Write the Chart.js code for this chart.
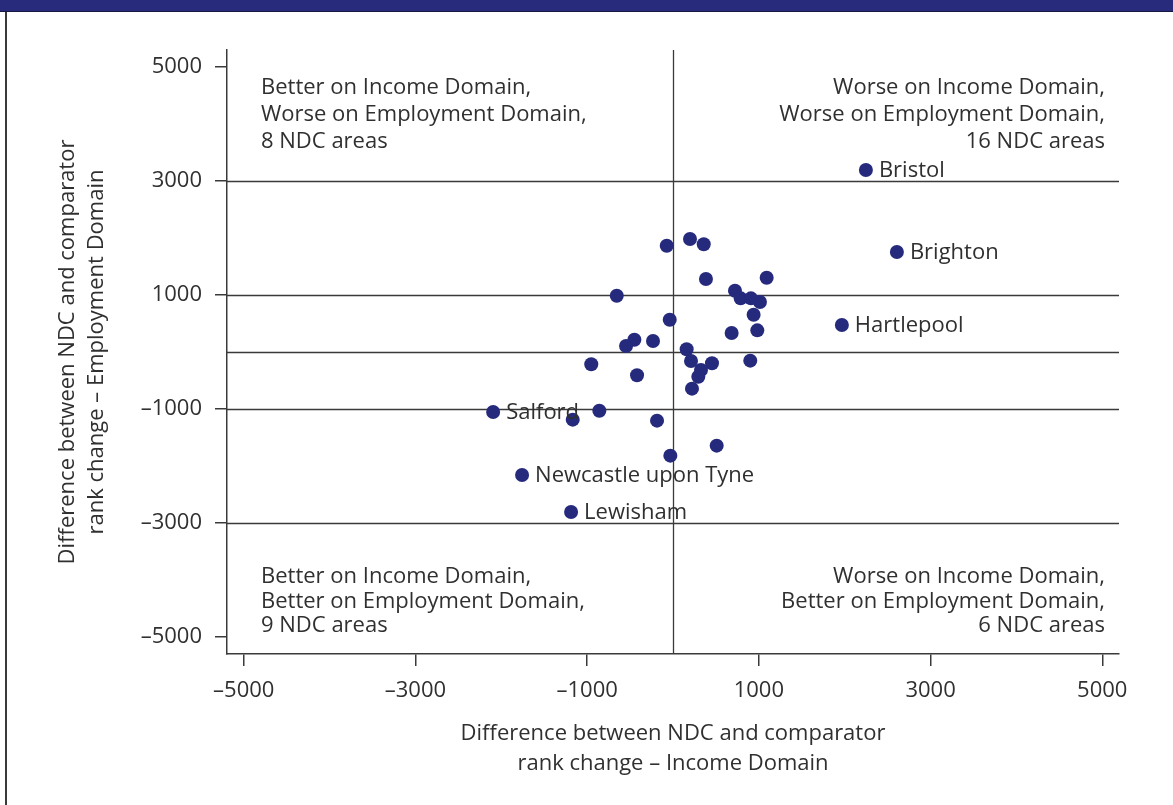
<!DOCTYPE html>
<html>
<head>
<meta charset="utf-8">
<script src="https://cdn.jsdelivr.net/npm/chart.js@4/dist/chart.umd.min.js"></script>
<style>
html,body{margin:0;padding:0;background:#fff;overflow:hidden;}
#banner{position:absolute;left:0;top:0;width:1173px;height:11px;background:#282b7b;border-bottom:1px solid #15173f;}
#lborder{position:absolute;left:5px;top:12px;width:2px;height:793px;background:#3a3a3a;}
canvas{position:absolute;left:0;top:0;}
</style>
</head>
<body>
<div id="banner"></div>
<div id="lborder"></div>
<canvas id="c" width="1173" height="805"></canvas>
<script>
// ---- data ----
const incomeDiff = [-73, 198, 358, 384, 1091, -655, 722, 788, 908, 1013, 939, 982, 683, -38, -450, -547, -233, 159,
  210, 454, 326, 295, 221, 900, -952, -419, -2095, -858, -1168, -186, 509, -31, -1758, -1187, 2247, 2608, 1967];
const employmentDiff = [1863, 1980, 1888, 1279, 1302, 987, 1074, 941, 941, 876, 654, 380, 333, 566, 216, 105, 193, 47,
  -158, -198, -315, -433, -643, -152, -216, -408, -1052, -1029, -1186, -1204, -1642, -1817, -2156, -2804, 3190, 1753, 473];
const areaNames = ["", "", "", "", "", "", "", "", "", "", "", "", "", "", "", "", "", "",
  "", "", "", "", "", "", "", "", "Salford", "", "", "", "", "", "Newcastle upon Tyne", "Lewisham", "Bristol", "Brighton", "Hartlepool"];
const xTickValues = [-5000, -3000, -1000, 1000, 3000, 5000];
const yTickValues = [-5000, -3000, -1000, 1000, 3000, 5000];
const yRefLines = [3000, 1000, 0, -1000, -3000];
const xRefLines = [0];
const quadrantTopLeft = ["Better on Income Domain,", "Worse on Employment Domain,", "8 NDC areas"];
const quadrantTopRight = ["Worse on Income Domain,", "Worse on Employment Domain,", "16 NDC areas"];
const quadrantBottomLeft = ["Better on Income Domain,", "Better on Employment Domain,", "9 NDC areas"];
const quadrantBottomRight = ["Worse on Income Domain,", "Better on Employment Domain,", "6 NDC areas"];
const xTitle = ["Difference between NDC and comparator", "rank change \u2013 Income Domain"];
const yTitle = ["Difference between NDC and comparator", "rank change \u2013 Employment Domain"];

const FONT = "'Open Sans', 'Noto Sans', sans-serif";
const TEXT = "#303030";
const LINE = "#3a3a3a";
const NAVY = "#262a7c";

const fmt = v => (v < 0 ? "\u2013" + Math.abs(v) : String(v));

const refLinesPlugin = {
  id: 'refLines',
  beforeDatasetsDraw(chart) {
    const {ctx, chartArea: a, scales: {x, y}} = chart;
    ctx.save();
    ctx.strokeStyle = LINE;
    ctx.lineWidth = 1.3;
    yRefLines.forEach(v => {
      const py = Math.round(y.getPixelForValue(v)) + 0.5;
      ctx.beginPath(); ctx.moveTo(a.left, py); ctx.lineTo(a.right, py); ctx.stroke();
    });
    xRefLines.forEach(v => {
      const px = Math.round(x.getPixelForValue(v)) + 0.5;
      ctx.beginPath(); ctx.moveTo(px, a.top); ctx.lineTo(px, a.bottom); ctx.stroke();
    });
    ctx.restore();
  }
};

const labelsPlugin = {
  id: 'labels',
  afterDatasetsDraw(chart) {
    const {ctx, chartArea: a, scales: {x, y}} = chart;
    ctx.save();
    ctx.fillStyle = TEXT;
    ctx.font = "22px " + FONT;
    ctx.textBaseline = 'middle';
    // point labels
    ctx.textAlign = 'left';
    areaNames.forEach((n, i) => {
      if (!n) return;
      ctx.fillText(n, x.getPixelForValue(incomeDiff[i]) + 13, y.getPixelForValue(employmentDiff[i]) + 1);
    });
    // quadrant labels
    const drawBlock = (lines, px, py, gap, align) => {
      ctx.textAlign = align;
      lines.forEach((t, k) => ctx.fillText(t, px, py + k * gap));
    };
    drawBlock(quadrantTopLeft, a.left + 34, a.top + 38, 27, 'left');
    drawBlock(quadrantTopRight, a.right - 14, a.top + 38, 27, 'right');
    drawBlock(quadrantBottomLeft, a.left + 34, a.bottom - 77, 24.5, 'left');
    drawBlock(quadrantBottomRight, a.right - 14, a.bottom - 77, 24.5, 'right');
    ctx.restore();
  }
};

new Chart(document.getElementById('c'), {
  type: 'scatter',
  data: {
    datasets: [{
      data: incomeDiff.map((v, i) => ({x: v, y: employmentDiff[i]})),
      backgroundColor: NAVY,
      borderColor: NAVY,
      borderWidth: 0,
      pointRadius: 7,
      pointHoverRadius: 7
    }]
  },
  options: {
    responsive: false,
    devicePixelRatio: 1,
    animation: false,
    events: [],
    layout: {padding: {left: 0, top: 50, right: 54, bottom: 0}},
    plugins: {legend: {display: false}, tooltip: {enabled: false}},
    scales: {
      x: {
        type: 'linear',
        min: -5195, max: 5195,
        afterBuildTicks(s) { s.ticks = xTickValues.map(v => ({value: v})); },
        afterFit(s) { s.height = 151; },
        border: {display: true, color: LINE, width: 1.5},
        grid: {display: true, drawOnChartArea: false, drawTicks: true, tickLength: 12, color: LINE, lineWidth: 1.5},
        ticks: {font: {family: FONT, size: 22}, color: TEXT, padding: 12, maxRotation: 0, autoSkip: false, callback: v => fmt(v)},
        title: {display: true, text: xTitle, color: TEXT, font: {family: FONT, size: 22, lineHeight: 1.33}, padding: {top: 0, bottom: 27}}
      },
      y: {
        type: 'linear',
        min: -5295, max: 5295,
        afterBuildTicks(s) { s.ticks = yTickValues.map(v => ({value: v})); },
        afterFit(s) { s.width = 227; },
        border: {display: true, color: LINE, width: 1.5},
        grid: {display: true, drawOnChartArea: false, drawTicks: true, tickLength: 12, color: LINE, lineWidth: 1.5},
        ticks: {font: {family: FONT, size: 22}, color: TEXT, padding: 13, autoSkip: false, callback: v => fmt(v)},
        title: {display: true, text: yTitle, color: TEXT, font: {family: FONT, size: 22, lineHeight: 1.33}, padding: {top: 53, bottom: 0}}
      }
    }
  },
  plugins: [refLinesPlugin, labelsPlugin]
});
</script>
</body>
</html>
